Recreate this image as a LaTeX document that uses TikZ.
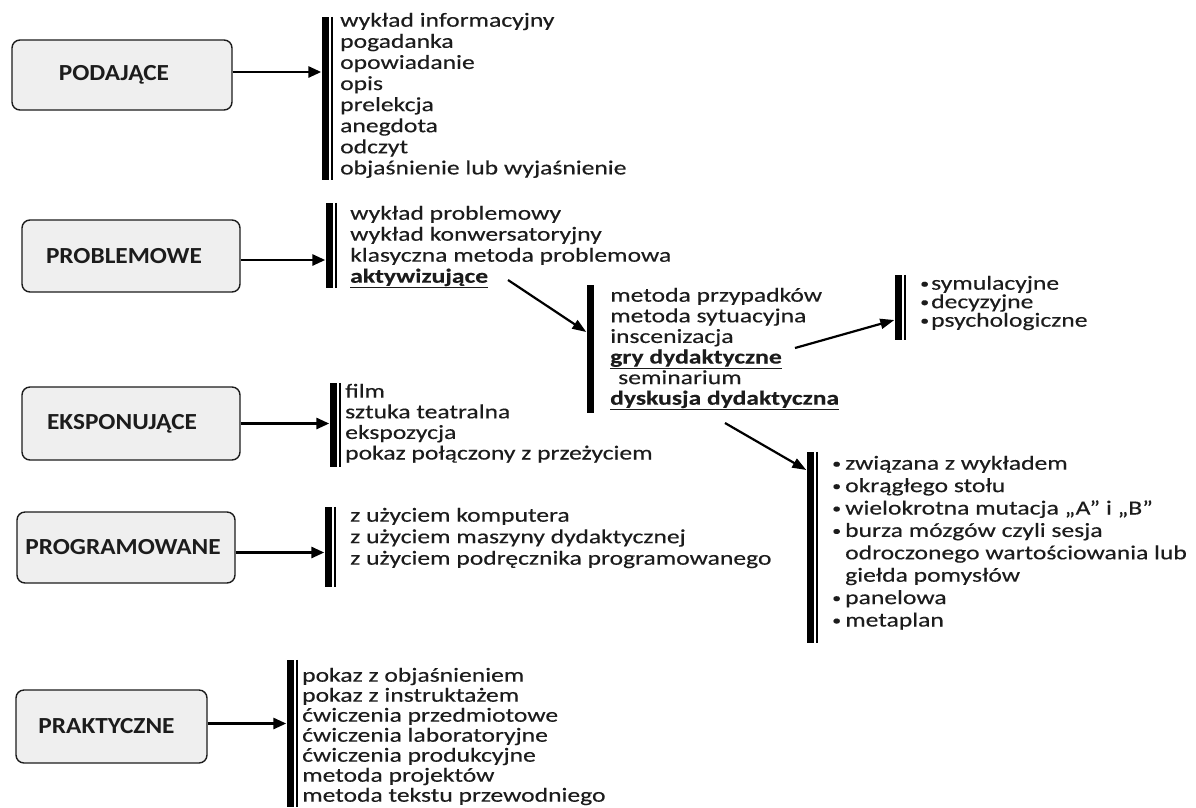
\documentclass[tikz,border=0pt]{standalone}
\usepackage{fontspec}
\setmainfont{Carlito}
\newfontfamily\listfnt[FakeStretch=1.28,FakeBold=0.3]{Carlito}
\newfontfamily\boxfnt[FakeStretch=1.1]{Carlito}
\usetikzlibrary{arrows.meta}
\definecolor{ink}{HTML}{1C1C1C}
\definecolor{boxfill}{HTML}{EFEFEF}
\newcommand\blt[1]{\makebox[#1][l]{\raisebox{1.5pt}{\fontsize{14}{14}\selectfont •}}}
\newcommand\fl{\rule{0pt}{15pt}}
\tikzset{
 catbox/.style={draw=ink, fill=boxfill, line width=1.4pt, rounded corners=8pt, inner sep=0pt,
   font=\boxfnt\bfseries\fontsize{23}{26}\selectfont, text=ink},
 listtxt/.style={anchor=north west, inner sep=0pt, align=left, text=ink},
 barnode/.style={fill=black, draw=none, inner sep=0pt, minimum width=7pt},
 thinbar/.style={line width=1.3pt, black},
 mainarrow/.style={line width=2.8pt, -{Triangle[length=13pt,width=11pt]}},
 diagarrow/.style={line width=2.2pt, -{Triangle[length=14pt,width=10pt]}},
}
\begin{document}
\begin{tikzpicture}[x=1pt,y=-1pt]
\useasboundingbox[fill=white] (0,0) rectangle (1196,807);

% category boxes
\node[catbox, minimum width=220pt, minimum height=70pt] (pod) at (122,75) {PODAJĄCE\hspace*{16pt}};
\node[catbox, minimum width=218pt, minimum height=72pt] (pro) at (131,256) {PROBLEMOWE\hspace*{14pt}};
\node[catbox, minimum width=218pt, minimum height=73pt] (eks) at (131,423.5) {EKSPONUJĄCE\hspace*{18pt}};
\node[catbox, minimum width=218pt, minimum height=71pt] (prg) at (126,547.5) {PROGRAMOWANE\hspace*{6pt}};
\node[catbox, minimum width=191pt, minimum height=73pt] (pra) at (111.5,726.5) {PRAKTYCZNE\hspace*{10pt}};

% bars
\node[barnode, minimum height=163pt] (bar1) at (325,98.5) {};
\node[barnode, minimum height=85pt] (bar2) at (329,245.5) {};
\node[barnode, minimum height=128pt] (bar3) at (590,349) {};
\node[barnode, minimum height=65pt] (bar4) at (898,307.5) {};
\node[barnode, minimum height=191pt] (bar5) at (810,547.5) {};
\node[barnode, minimum height=84pt] (bar6) at (333,425) {};
\node[barnode, minimum height=80pt] (bar7) at (328,547) {};
\node[barnode, minimum height=147pt] (bar8) at (290,733.5) {};
\foreach \b in {bar1,bar2,bar4,bar5,bar6,bar7,bar8}
  \draw[thinbar] ([xshift=3.2pt]\b.north east) -- ([xshift=3.2pt]\b.south east);

% lists
\node[listtxt, font=\listfnt\fontsize{20}{21.1}\selectfont] (l1) at (340,11.5) {\fl wykład informacyjny\\ pogadanka\\ opowiadanie\\ opis\\ prelekcja\\ anegdota\\ odczyt\\ objaśnienie lub wyjaśnienie};
\node[listtxt, font=\listfnt\fontsize{20}{21}\selectfont] (l2) at (350,204.5) {\fl wykład problemowy\\ wykład konwersatoryjny\\ klasyczna metoda problemowa\\ \underline{\textbf{aktywizujące}}};
\node[listtxt, font=\listfnt\fontsize{20}{20.6}\selectfont] (l3) at (610,286.5) {\fl metoda przypadków\\ metoda sytuacyjna\\ inscenizacja\\ \underline{\textbf{gry dydaktyczne}}\\ \hspace*{8pt}seminarium\\ \underline{\textbf{dyskusja dydaktyczna}}};
\node[listtxt, font=\listfnt\fontsize{20}{18.5}\selectfont] (l4) at (920,274.5) {\fl\blt{11pt}symulacyjne\\ \blt{11pt}decyzyjne\\ \blt{11pt}psychologiczne};
\node[listtxt, font=\listfnt\fontsize{20}{22.4}\selectfont] (l5) at (832,454.5) {\fl\blt{13pt}związana z wykładem\\ \blt{13pt}okrągłego stołu\\ \blt{13pt}wielokrotna mutacja „A” i „B”\\ \blt{13pt}burza mózgów czyli sesja\\ \hspace*{13pt}odroczonego wartościowania lub\\ \hspace*{13pt}giełda pomysłów\\ \blt{13pt}panelowa\\ \blt{13pt}metaplan};
\node[listtxt, font=\listfnt\fontsize{20}{20.6}\selectfont] (l6) at (345,382.5) {\fl film\\ sztuka teatralna\\ ekspozycja\\ pokaz połączony z przeżyciem};
\node[listtxt, font=\listfnt\fontsize{20}{21.5}\selectfont] (l7) at (350,506.5) {\fl z użyciem komputera\\ z użyciem maszyny dydaktycznej\\ z użyciem podręcznika programowanego};
\node[listtxt, font=\listfnt\fontsize{20}{20}\selectfont] (l8) at (302,666.5) {\fl pokaz z objaśnieniem\\ pokaz z instruktażem\\ ćwiczenia przedmiotowe\\ ćwiczenia laboratoryjne\\ ćwiczenia produkcyjne\\ metoda projektów\\ metoda tekstu przewodniego};

% main arrows
\draw[mainarrow] ([yshift=3pt]pod.east) -- ([yshift=3pt]pod.east -| bar1.west);
\draw[mainarrow] ([yshift=-4pt]pro.east) -- ([yshift=-4pt]pro.east -| bar2.west);
\draw[mainarrow] (eks.east) -- (eks.east -| bar6.west);
\draw[mainarrow] ([yshift=-5pt]prg.east) -- ([yshift=-5pt]prg.east -| bar7.west);
\draw[mainarrow] ([yshift=3pt]pra.east) -- ([yshift=3pt]pra.east -| bar8.west);

% diagonal arrows
\coordinate (s1) at (508,280);
\coordinate (s2) at (795,348);
\coordinate (s3) at (725,423);
\draw[diagarrow] (s1) -- ([yshift=17pt]bar3.west);
\draw[diagarrow] (s2) -- ([yshift=-12.5pt]bar4.west);
\draw[diagarrow] (s3) -- ([yshift=77.5pt]bar5.west);
\end{tikzpicture}
\end{document}
